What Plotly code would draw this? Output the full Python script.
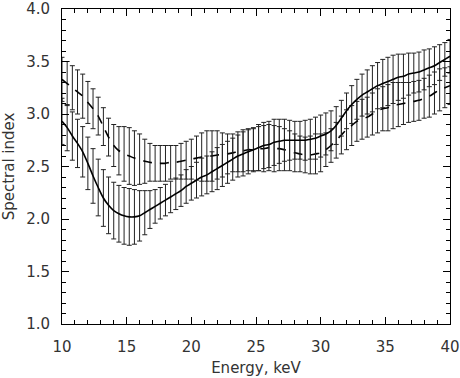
import plotly.graph_objects as go

# energy grid, keV
energy = [
    10.0, 10.4, 10.8, 11.2, 11.6, 12.0, 12.4, 12.8, 13.2, 13.6,
    14.0, 14.4, 14.8, 15.2, 15.6, 16.0, 16.4, 16.8, 17.2, 17.6,
    18.0, 18.4, 18.8, 19.2, 19.6, 20.0, 20.4, 20.8, 21.2, 21.6,
    22.0, 22.4, 22.8, 23.2, 23.6, 24.0, 24.4, 24.8, 25.2, 25.6,
    26.0, 26.4, 26.8, 27.2, 27.6, 28.0, 28.4, 28.8, 29.2, 29.6,
    30.0, 30.4, 30.8, 31.2, 31.6, 32.0, 32.4, 32.8, 33.2, 33.6,
    34.0, 34.4, 34.8, 35.2, 35.6, 36.0, 36.4, 36.8, 37.2, 37.6,
    38.0, 38.4, 38.8, 39.2, 39.6, 40.0]

# solid curve
index_solid = [
    2.93, 2.87, 2.79, 2.72, 2.64, 2.53, 2.41, 2.30, 2.20, 2.13,
    2.08, 2.05, 2.03, 2.02, 2.02, 2.03, 2.06, 2.09, 2.12, 2.15,
    2.18, 2.21, 2.24, 2.27, 2.31, 2.34, 2.37, 2.40, 2.42, 2.45,
    2.48, 2.51, 2.54, 2.57, 2.60, 2.62, 2.64, 2.66, 2.68, 2.70,
    2.71, 2.73, 2.74, 2.75, 2.75, 2.75, 2.75, 2.75, 2.76, 2.77,
    2.79, 2.81, 2.84, 2.89, 2.96, 3.03, 3.09, 3.14, 3.18, 3.21,
    3.24, 3.27, 3.29, 3.31, 3.33, 3.35, 3.36, 3.38, 3.39, 3.40,
    3.42, 3.44, 3.46, 3.49, 3.52, 3.55]
err_solid = [
    0.22, 0.22, 0.23, 0.23, 0.24, 0.25, 0.26, 0.27, 0.27, 0.27,
    0.27, 0.27, 0.27, 0.27, 0.26, 0.24, 0.21, 0.18, 0.16, 0.15,
    0.15, 0.15, 0.15, 0.15, 0.16, 0.16, 0.17, 0.18, 0.18, 0.19,
    0.20, 0.20, 0.20, 0.20, 0.20, 0.21, 0.21, 0.21, 0.22, 0.22,
    0.22, 0.22, 0.21, 0.20, 0.19, 0.18, 0.18, 0.19, 0.19, 0.20,
    0.20, 0.20, 0.19, 0.18, 0.17, 0.17, 0.18, 0.19, 0.20, 0.21,
    0.22, 0.22, 0.23, 0.23, 0.23, 0.22, 0.21, 0.20, 0.19, 0.19,
    0.19, 0.18, 0.18, 0.17, 0.16, 0.16]

# dashed curve
index_dashed = [
    3.33, 3.29, 3.25, 3.21, 3.17, 3.11, 3.05, 2.98, 2.88, 2.78,
    2.70, 2.65, 2.62, 2.60, 2.58, 2.57, 2.55, 2.54, 2.53, 2.53,
    2.53, 2.54, 2.54, 2.55, 2.56, 2.57, 2.58, 2.59, 2.60, 2.60,
    2.61, 2.61, 2.62, 2.63, 2.64, 2.65, 2.66, 2.66, 2.67, 2.67,
    2.68, 2.67, 2.67, 2.66, 2.65, 2.63, 2.62, 2.61, 2.61, 2.62,
    2.63, 2.66, 2.70, 2.75, 2.80, 2.85, 2.89, 2.93, 2.95, 2.97,
    3.00, 3.03, 3.05, 3.06, 3.08, 3.09, 3.10, 3.11, 3.12, 3.13,
    3.15, 3.17, 3.20, 3.23, 3.25, 3.27]
err_dashed = [
    0.21, 0.21, 0.21, 0.21, 0.21, 0.20, 0.19, 0.18, 0.18, 0.18,
    0.20, 0.23, 0.26, 0.27, 0.26, 0.24, 0.21, 0.18, 0.17, 0.17,
    0.17, 0.16, 0.16, 0.17, 0.18, 0.19, 0.21, 0.23, 0.24, 0.24,
    0.23, 0.21, 0.19, 0.18, 0.19, 0.20, 0.20, 0.20, 0.21, 0.22,
    0.22, 0.22, 0.21, 0.20, 0.19, 0.18, 0.17, 0.17, 0.18, 0.19,
    0.18, 0.16, 0.16, 0.17, 0.18, 0.19, 0.19, 0.19, 0.19, 0.19,
    0.20, 0.21, 0.21, 0.22, 0.22, 0.21, 0.20, 0.19, 0.19, 0.19,
    0.19, 0.20, 0.20, 0.20, 0.19, 0.18]

font = dict(family="DejaVu Sans", size=15, color="#333")

fig = go.Figure()
for y, e, dash in [(index_dashed, err_dashed, "9px,8px"),
                   (index_solid, err_solid, "solid")]:
    fig.add_trace(go.Scatter(
        x=energy, y=y, mode="lines",
        line=dict(color="black", width=1.6, dash=dash, shape="spline", smoothing=0.8),
        error_y=dict(type="data", array=e, visible=True,
                     color="#222", thickness=1, width=2.5),
        showlegend=False))

axis = dict(showline=True, linecolor="black", linewidth=1, mirror="allticks",
            ticks="inside", ticklen=7, tickcolor="black", showgrid=False,
            zeroline=False, automargin=False, tickfont=font,
            ticklabeloverflow="allow")
fig.update_xaxes(axis, range=[10, 40], dtick=5, ticklabelstandoff=9,
                 minor=dict(ticks="inside", dtick=1, ticklen=4, tickcolor="black"),
                 title=dict(text="Energy, keV", font=font, standoff=7))
fig.update_yaxes(axis, range=[1.0, 4.0], dtick=0.5, tickformat=".1f",
                 ticklabelstandoff=8,
                 minor=dict(ticks="inside", dtick=0.1, ticklen=4, tickcolor="black"),
                 title=dict(text="Spectral index", font=font, standoff=11))

fig.update_layout(
    template="none",
    width=460, height=378,
    margin=dict(l=62, r=10, t=9, b=54),
    paper_bgcolor="white", plot_bgcolor="white",
)
# drop the browser's default 8px body margin
fig.write_html("out.html", config={"displayModeBar": False},
               post_script="document.body.style.margin='0';")
